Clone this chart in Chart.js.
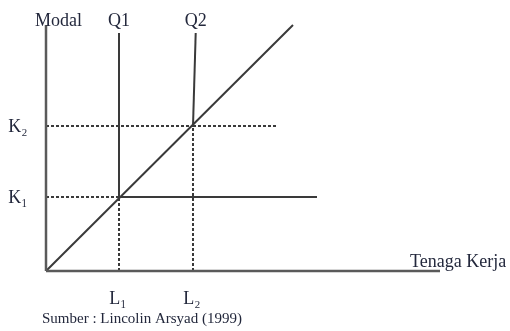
<!DOCTYPE html>
<html>
<head>
<meta charset="utf-8">
<script src="https://cdn.jsdelivr.net/npm/chart.js@4/dist/chart.umd.min.js"></script>
<style>
html,body{margin:0;padding:0;background:#fff;}
#wrap{width:510px;height:331px;position:relative;}
</style>
</head>
<body>
<div id="wrap"><canvas id="c" width="510" height="331"></canvas></div>
<script>
// ---- data (abstract units) ----
const axisLabels = ['Modal', 'Tenaga Kerja'];
const xTickLabels = ['L\u2081', 'L\u2082'];
const xTickValues = [7.3, 14.7];
const yTickLabels = ['K\u2081', 'K\u2082'];
const yTickValues = [7.4, 14.5];
const curveNames = ['Q1', 'Q2'];
const xMax = 39.4;
const yMax = 24.6;
const q1X = [7.3, 7.3, 27.1];
const q1Y = [23.8, 7.4, 7.4];
const q2X = [14.97, 14.7];
const q2Y = [23.8, 14.5];
const q2ArmX = [14.7, 23.2];
const q2ArmY = [14.5, 14.5];
const pathX = [0, 24.7];
const pathY = [0, 24.6];
const sourceText = 'Sumber : Lincolin Arsyad (1999)';

const pts = (xs, ys) => xs.map((x, i) => ({x: x, y: ys[i]}));

const LINE = '#3a3a3a';
const AXIS = '#5a5a5a';
const TEXT = '#23283c';

function lineDs(data, color, width, dash) {
  return {data: data, showLine: true, borderColor: color, borderWidth: width,
    borderDash: dash || [], pointRadius: 0, fill: false, tension: 0, clip: false};
}

const datasets = [
  lineDs(pts([0, 0], [0, yMax]), AXIS, 2.5),
  lineDs(pts([0, xMax], [0, 0]), AXIS, 2.5),
  // dashed guides
  lineDs(pts([0, xTickValues[0]], [yTickValues[0], yTickValues[0]]), LINE, 2, [3, 2]),
  lineDs(pts([xTickValues[0], xTickValues[0]], [0, yTickValues[0]]), LINE, 2, [3, 2]),
  lineDs(pts([0, xTickValues[1]], [yTickValues[1], yTickValues[1]]), LINE, 2, [3, 2]),
  lineDs(pts(q2ArmX, q2ArmY), LINE, 2, [3, 2]),
  lineDs(pts([xTickValues[1], xTickValues[1]], [0, yTickValues[1]]), LINE, 2, [3, 2]),
  // isoquants
  lineDs(pts(q1X, q1Y), LINE, 2),
  lineDs(pts(q2X, q2Y), LINE, 2),
  // expansion path
  lineDs(pts(pathX, pathY), LINE, 2)
];

const labelPlugin = {
  id: 'labels',
  afterDraw(chart) {
    const ctx = chart.ctx, xs = chart.scales.x, ys = chart.scales.y;
    ctx.save();
    ctx.fillStyle = TEXT;
    ctx.textBaseline = 'middle';
    ctx.font = '18px "Liberation Serif", "Times New Roman", serif';
    // y-axis title
    ctx.textAlign = 'left';
    ctx.fillText(axisLabels[0], 35, 21);
    // curve names
    ctx.textAlign = 'center';
    ctx.fillText(curveNames[0], xs.getPixelForValue(q1X[0]), 21);
    ctx.fillText(curveNames[1], xs.getPixelForValue(q2X[0]), 21);
    // x-axis title
    ctx.textAlign = 'left';
    ctx.fillText(axisLabels[1], 410, 262);
    // y ticks
    ctx.textAlign = 'center';
    yTickLabels.forEach((t, i) => ctx.fillText(t, 18, ys.getPixelForValue(yTickValues[i]) + 1));
    // x ticks
    xTickLabels.forEach((t, i) => ctx.fillText(t, xs.getPixelForValue(xTickValues[i]) - 1, 299));
    // source
    ctx.font = '15px "Liberation Serif", "Times New Roman", serif';
    ctx.textAlign = 'left';
    ctx.fillText(sourceText, 42, 319);
    ctx.restore();
  }
};

new Chart(document.getElementById('c'), {
  type: 'scatter',
  data: {datasets: datasets},
  options: {
    responsive: false,
    animation: false,
    events: [],
    layout: {padding: {left: 46, right: 70, top: 25, bottom: 60}},
    plugins: {legend: {display: false}, tooltip: {enabled: false}},
    scales: {
      x: {type: 'linear', min: 0, max: xMax, display: false},
      y: {type: 'linear', min: 0, max: yMax, display: false}
    }
  },
  plugins: [labelPlugin]
});
</script>
</body>
</html>
